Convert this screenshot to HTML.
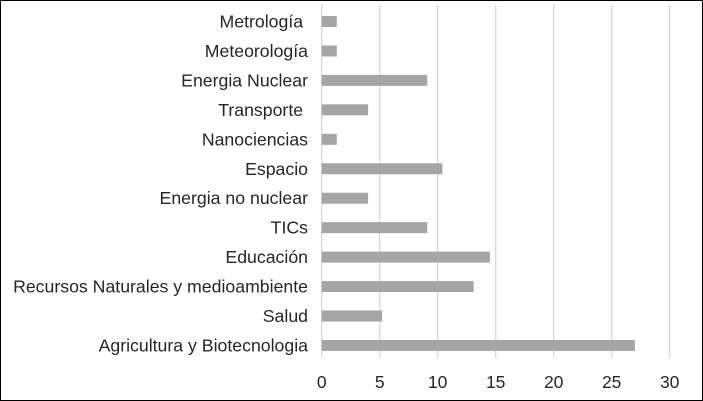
<!DOCTYPE html>
<html><head><meta charset="utf-8"><style>
html,body{margin:0;padding:0;background:#fff}
svg{display:block}
text{font-family:"Liberation Sans",Arial,sans-serif;fill:#262626}
</style></head><body>
<svg width="703" height="401" id="chart">
<rect x="0.5" y="0.5" width="702" height="400" fill="#fff" stroke="#000" stroke-width="1"/>
<g id="grid"></g><g id="bars"></g><g id="labels"></g><g id="ticks"></g>
</svg>
<script>
const categories = ["Metrología ","Meteorología","Energia Nuclear","Transporte ","Nanociencias","Espacio","Energia no nuclear","TICs","Educación","Recursos Naturales y medioambiente","Salud","Agricultura y Biotecnologia"];
const values = [1.3,1.3,9.1,4,1.3,10.4,4,9.1,14.5,13.1,5.2,27];
const tickValues = [0,5,10,15,20,25,30];
const tickLabels = ["0","5","10","15","20","25","30"];
const NS="http://www.w3.org/2000/svg";
const x0=321.7, pxPer=11.6, yTop=21.5, step=29.45, barH=11;
const xs=v=>x0+v*pxPer, ys=i=>yTop+i*step;
function mk(t,a,p){const e=document.createElementNS(NS,t);for(const k in a)e.setAttribute(k,a[k]);document.getElementById(p).appendChild(e);return e;}
tickValues.forEach((v,i)=>{
  const l=mk('line',{x1:xs(v),x2:xs(v),y1:5,y2:358,stroke:'#d9d9d9','stroke-width':1.3},'grid');
  
  
  const t=mk('text',{x:xs(v),y:388,'text-anchor':'middle','font-size':17.5},'ticks');
  t.textContent=tickLabels[i];
  
  
});
categories.forEach((c,i)=>{
  const r=mk('rect',{x:x0,y:ys(i)-barH/2,width:xs(values[i])-x0,height:barH,fill:'#a5a5a5'},'bars');
  
  
  const t=mk('text',{x:308,y:ys(i)+6,'text-anchor':'end','font-size':17.7},'labels');
  t.setAttribute('style','white-space:pre');
  t.textContent=c;
  
  
});
</script>
</body></html>
